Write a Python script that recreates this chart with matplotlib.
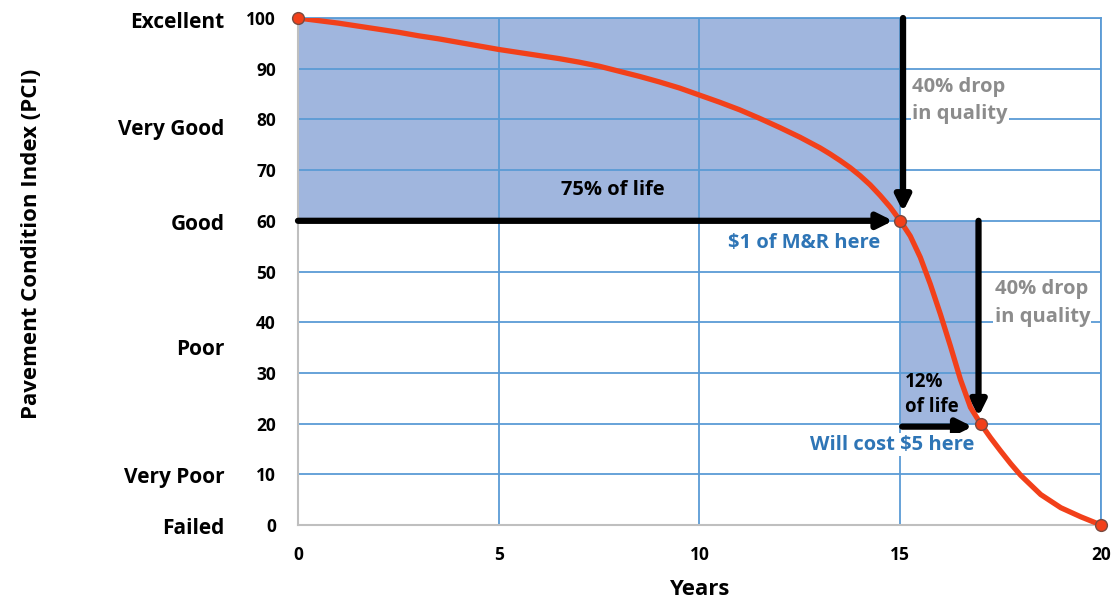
import numpy as np
import matplotlib.pyplot as plt

# PCI curve
years = [0, 0.5, 1, 1.5, 2, 2.5, 3, 3.5, 4, 4.5, 5, 5.5, 6, 6.5, 7, 7.5, 8, 8.5, 9, 9.5,
         10, 10.5, 11, 11.5, 12, 12.5, 13, 13.25, 13.5, 13.75, 14, 14.25, 14.5, 14.75,
         15, 15.25, 15.5, 15.75, 16, 16.25, 16.5, 16.75, 17, 17.25, 17.5, 17.75, 18,
         18.5, 19, 19.5, 20]
pci = [100, 99.5, 99, 98.4, 97.8, 97.2, 96.5, 95.9, 95.2, 94.5, 93.8, 93.2, 92.6, 92.0,
       91.3, 90.5, 89.5, 88.5, 87.4, 86.2, 84.8, 83.4, 81.9, 80.2, 78.4, 76.5, 74.4, 73.2,
       71.9, 70.5, 68.9, 67.1, 65.0, 62.7, 60, 57.0, 52.8, 47.5, 41.6, 35.3, 28.7, 23.2,
       20.0, 17.2, 14.6, 12.1, 9.8, 6.0, 3.4, 1.6, 0]

# points with markers
key_years = [0, 15, 17, 20]
key_pci = [100, 60, 20, 0]

y_ticks = [0, 10, 20, 30, 40, 50, 60, 70, 80, 90, 100]
x_ticks = [0, 5, 10, 15, 20]
cond_labels = ['Excellent', 'Very Good', 'Good', 'Poor', 'Very Poor', 'Failed']
cond_pos = [99.2, 78, 59.3, 34.6, 9.4, -0.6]

plt.rcParams['font.family'] = ['Open Sans', 'DejaVu Sans']
plt.rcParams['font.weight'] = 'bold'

grid_c = '#5B9BD5'
fill_c = '#A0B6DE'
blue_txt = '#2E75B6'
grey_txt = '#8C8C8C'

fig = plt.figure(figsize=(11.14, 6.03), dpi=100)
ax = fig.add_axes([0.2675, 0.1294, 0.7208, 0.8407])

x1, y1 = key_years[1], key_pci[1]
x2, y2 = key_years[2], key_pci[2]

# shaded blocks
ax.fill_between([key_years[0], x1], y1, key_pci[0], color=fill_c, lw=0, zorder=0.2)
ax.fill_between([x1, x2 - 0.1], y2, y1, color=fill_c, lw=0, zorder=0.2)

ax.plot(years, pci, color='#F2401A', lw=3.8, zorder=4, solid_capstyle='round',
        solid_joinstyle='round')
ax.plot(key_years, key_pci, 'o', ms=8.5, mfc='#F2401A', mec='#7A4A40', mew=1,
        zorder=5, clip_on=False)

# arrows
ap = dict(arrowstyle='-|>,head_length=0.9,head_width=0.45', lw=4.5, color='black',
          shrinkA=0, shrinkB=0)
ax.annotate('', xy=(x1 - 0.18, y1), xytext=(0, y1), arrowprops=ap, zorder=3)
ax.annotate('', xy=(x1 + 0.07, y1 + 1.8), xytext=(x1 + 0.07, 100), arrowprops=ap, zorder=3)
ax.annotate('', xy=(x2 - 0.2, y2 - 0.6), xytext=(x1 + 0.05, y2 - 0.6), arrowprops=ap, zorder=3)
ax.annotate('', xy=(x2 - 0.05, y2 + 1.4), xytext=(x2 - 0.05, y1), arrowprops=ap, zorder=3)

# texts
ax.text(7.85, 66, '75% of life', fontsize=14.5, ha='center', va='center', color='black')
ax.text(12.6, 55.6, '$1 of M&R here', fontsize=14.5, ha='center', va='center', color=blue_txt,
        bbox=dict(fc='white', ec='none', pad=1), zorder=3)
ax.text(15.3, 83.7, '40% drop\nin quality', fontsize=14.5, ha='left', va='center', color=grey_txt,
        linespacing=1.5, bbox=dict(fc='white', ec='none', pad=1), zorder=3)
ax.text(17.35, 43.8, '40% drop\nin quality', fontsize=14.5, ha='left', va='center', color=grey_txt,
        linespacing=1.5, bbox=dict(fc='white', ec='none', pad=1), zorder=3)
ax.text(15.12, 25.7, '12%\nof life', fontsize=13.5, ha='left', va='center', color='black',
        linespacing=1.3)
ax.text(14.8, 15.8, 'Will cost $5 here', fontsize=14.5, ha='center', va='center', color=blue_txt,
        bbox=dict(fc='white', ec='none', pad=1), zorder=3)

ax.set_xlim(0, 20)
ax.set_ylim(0, 100)
ax.set_xticks(x_ticks)
ax.set_yticks(y_ticks)
ax.tick_params(length=0, labelsize=12.5, pad=16)
ax.tick_params(axis='x', pad=15)
ax.set_axisbelow(True)
ax.grid(True, color=grid_c, lw=1.3)
ax.spines['left'].set_color('#BFBFBF')
ax.spines['bottom'].set_color('#BFBFBF')
ax.spines['left'].set_linewidth(1.5)
ax.spines['bottom'].set_linewidth(1.5)
ax.spines['top'].set_color(grid_c)
ax.spines['right'].set_color(grid_c)
ax.spines['top'].set_linewidth(1.3)
ax.spines['right'].set_linewidth(1.3)

for lab, p in zip(cond_labels, cond_pos):
    ax.text(-1.83, p, lab, fontsize=15, ha='right', va='center', color='black')

ax.set_xlabel('Years', fontsize=16, fontweight='bold', labelpad=11)
fig.text(0.028, 0.596, 'Pavement Condition Index (PCI)', fontsize=16, rotation=90,
         ha='center', va='center')

fig.savefig('out.png', dpi=100)
